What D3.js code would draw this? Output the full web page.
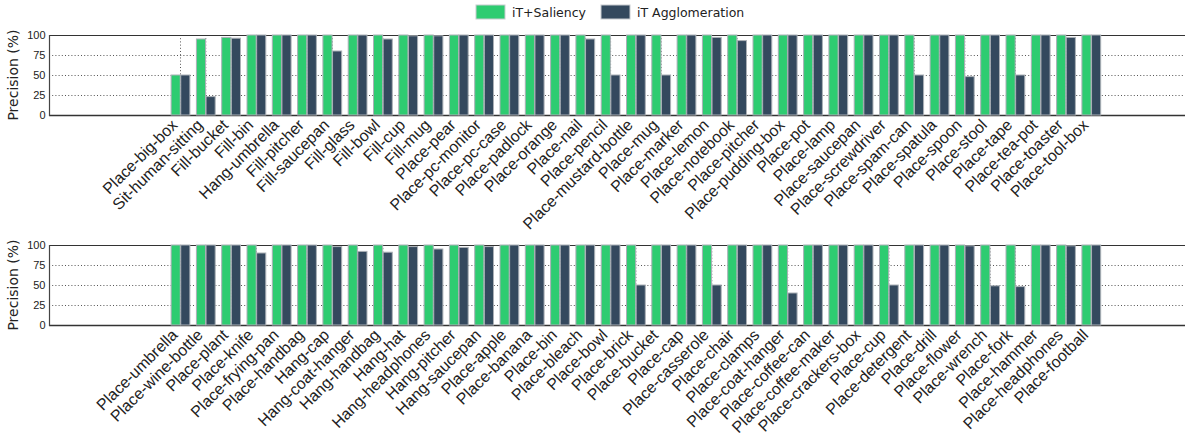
<!DOCTYPE html>
<html>
<head>
<meta charset="utf-8">
<script src="https://cdn.jsdelivr.net/npm/d3@7"></script>
<style>
  html, body { margin: 0; padding: 0; background: #fff; }
  svg { display: block; }
</style>
</head>
<body>
<svg id="chart" width="1185" height="438"></svg>
<script>
// Series names and colours
const seriesNames = ["iT+Saliency", "iT Agglomeration"];
const seriesColors = ["#2ecc71", "#34495e"];

// Y ticks (precision in percent)
const yTicks = [0, 25, 50, 75, 100];

// Upper panel
const topCategories = [
  "Place-big-box", "Sit-human-sitting", "Fill-bucket", "Fill-bin", "Hang-umbrella",
  "Fill-pitcher", "Fill-saucepan", "Fill-glass", "Fill-bowl", "Fill-cup", "Fill-mug",
  "Place-pear", "Place-pc-monitor", "Place-pc-case", "Place-padlock", "Place-orange",
  "Place-nail", "Place-pencil", "Place-mustard-bottle", "Place-mug", "Place-marker",
  "Place-lemon", "Place-notebook", "Place-pitcher", "Place-pudding-box", "Place-pot",
  "Place-lamp", "Place-saucepan", "Place-screwdriver", "Place-spam-can", "Place-spatula",
  "Place-spoon", "Place-stool", "Place-tape", "Place-tea-pot", "Place-toaster", "Place-tool-box"
];
const topSaliency = [
  50, 95, 97, 100, 100, 100, 100, 100, 100, 100, 100,
  100, 100, 100, 100, 100, 100, 100, 100, 100, 100,
  100, 100, 100, 100, 100, 100, 100, 100, 100, 100,
  100, 100, 100, 100, 100, 100
];
const topAgglomeration = [
  50, 23, 96, 100, 100, 100, 80, 100, 95, 99, 99,
  100, 100, 100, 100, 100, 95, 50, 100, 50, 100,
  97, 93, 100, 100, 100, 100, 100, 100, 50, 100,
  48, 100, 50, 100, 97, 100
];

// Lower panel
const bottomCategories = [
  "Place-umbrella", "Place-wine-bottle", "Place-plant", "Place-knife", "Place-frying-pan",
  "Place-handbag", "Hang-cap", "Hang-coat-hanger", "Hang-handbag", "Hang-hat",
  "Hang-headphones", "Hang-pitcher", "Hang-saucepan", "Place-apple", "Place-banana",
  "Place-bin", "Place-bleach", "Place-bowl", "Place-brick", "Place-bucket", "Place-cap",
  "Place-casserole", "Place-chair", "Place-clamps", "Place-coat-hanger", "Place-coffee-can",
  "Place-coffee-maker", "Place-crackers-box", "Place-cup", "Place-detergent", "Place-drill",
  "Place-flower", "Place-wrench", "Place-fork", "Place-hammer", "Place-headphones", "Place-football"
];
const bottomSaliency = [
  100, 100, 100, 100, 100, 100, 100, 100, 100, 100,
  100, 100, 100, 100, 100, 100, 100, 100, 100, 100, 100,
  100, 100, 100, 100, 100, 100, 100, 100, 100, 100,
  100, 100, 100, 100, 100, 100
];
const bottomAgglomeration = [
  100, 100, 100, 90, 100, 100, 98, 92, 91, 98,
  95, 97, 98, 100, 100, 100, 100, 100, 50, 100, 100,
  50, 100, 100, 40, 100, 100, 100, 50, 100, 100,
  99, 49, 48, 100, 99, 100
];

const svg = d3.select("#chart");
const W = 1185;
const frameLeft = 49;

const panels = [
  { categories: topCategories, values: [topSaliency, topAgglomeration], top: 35, bottom: 115 },
  { categories: bottomCategories, values: [bottomSaliency, bottomAgglomeration], top: 245, bottom: 325 }
];

panels.forEach(p => {
  const g = svg.append("g");

  const x = d3.scaleBand()
    .domain(p.categories)
    .range([167.85, 1103.95])
    .paddingInner(0.22)
    .paddingOuter(0.11);

  const xSub = d3.scaleBand()
    .domain(seriesNames)
    .range([0, x.bandwidth()])
    .padding(0.05);

  const y = d3.scaleLinear().domain([0, 100]).range([p.bottom, p.top]);

  // horizontal dotted grid
  g.append("g").selectAll("line")
    .data(yTicks.filter(t => t > 0 && t < 100))
    .join("line")
    .attr("x1", frameLeft).attr("x2", W + 10)
    .attr("y1", d => Math.round(y(d)) + 0.5).attr("y2", d => Math.round(y(d)) + 0.5)
    .attr("stroke", "#555").attr("stroke-width", 1)
    .attr("stroke-dasharray", "1,2.2");

  // vertical dotted grid at each category
  g.append("g").selectAll("line")
    .data(p.categories)
    .join("line")
    .attr("x1", d => x(d) + x.bandwidth() / 2).attr("x2", d => x(d) + x.bandwidth() / 2)
    .attr("y1", p.top).attr("y2", p.bottom)
    .attr("stroke", "#555").attr("stroke-width", 1)
    .attr("stroke-dasharray", "1,2.2");

  // frame
  g.append("line")
    .attr("x1", frameLeft).attr("x2", W + 10)
    .attr("y1", p.top + 0.5).attr("y2", p.top + 0.5)
    .attr("stroke", "#333").attr("stroke-width", 1.2);
  g.append("line")
    .attr("x1", frameLeft).attr("x2", W + 10)
    .attr("y1", p.bottom + 0.5).attr("y2", p.bottom + 0.5)
    .attr("stroke", "#333").attr("stroke-width", 1.4);
  g.append("line")
    .attr("x1", frameLeft + 0.5).attr("x2", frameLeft + 0.5)
    .attr("y1", p.top).attr("y2", p.bottom + 1)
    .attr("stroke", "#444").attr("stroke-width", 1.2);

  // bars
  const groups = g.append("g").selectAll("g")
    .data(p.categories.map((c, i) => ({ c, vals: p.values.map(v => v[i]) })))
    .join("g")
    .attr("transform", d => `translate(${x(d.c)},0)`);

  groups.selectAll("rect")
    .data(d => d.vals.map((v, k) => ({ v, k })))
    .join("rect")
    .attr("x", d => xSub(seriesNames[d.k]))
    .attr("width", xSub.bandwidth())
    .attr("y", d => y(d.v))
    .attr("height", d => y(0) - y(d.v))
    .attr("fill", d => seriesColors[d.k])
    .attr("stroke", "#aab0b6")
    .attr("stroke-width", 1);

  // y tick labels
  g.append("g").selectAll("text")
    .data(yTicks)
    .join("text")
    .attr("x", 45.5)
    .attr("y", d => y(d) + 4)
    .attr("text-anchor", "end")
    .attr("font-family", "'Liberation Sans', Arial, sans-serif")
    .attr("font-size", 11)
    .attr("fill", "#222")
    .text(d => d);

  // y axis title
  g.append("text")
    .attr("transform", `translate(18,${(p.top + p.bottom) / 2}) rotate(-90)`)
    .attr("text-anchor", "middle")
    .attr("font-family", "'DejaVu Sans', sans-serif")
    .attr("font-size", 14)
    .attr("fill", "#222")
    .text("Precision (%)");

  // rotated category labels
  g.append("g").selectAll("text")
    .data(p.categories)
    .join("text")
    .attr("transform", d => `translate(${x(d) + x.bandwidth() / 2 - 2},${p.bottom + 11}) rotate(-45)`)
    .attr("text-anchor", "end")
    .attr("font-family", "'Liberation Sans', Arial, sans-serif")
    .attr("font-size", 16)
    .attr("fill", "#222")
    .text(d => d);
});

// legend
const legend = svg.append("g");
const legendX = [476, 601];
seriesNames.forEach((name, i) => {
  legend.append("rect")
    .attr("x", legendX[i]).attr("y", 5)
    .attr("width", 29).attr("height", 14)
    .attr("fill", seriesColors[i])
    .attr("stroke", "#c8ccd0").attr("stroke-width", 1);
  legend.append("text")
    .attr("x", legendX[i] + 36).attr("y", 16.5)
    .attr("font-family", "'DejaVu Sans', sans-serif")
    .attr("font-size", 12.5)
    .attr("fill", "#222")
    .text(name);
});
</script>
</body>
</html>
